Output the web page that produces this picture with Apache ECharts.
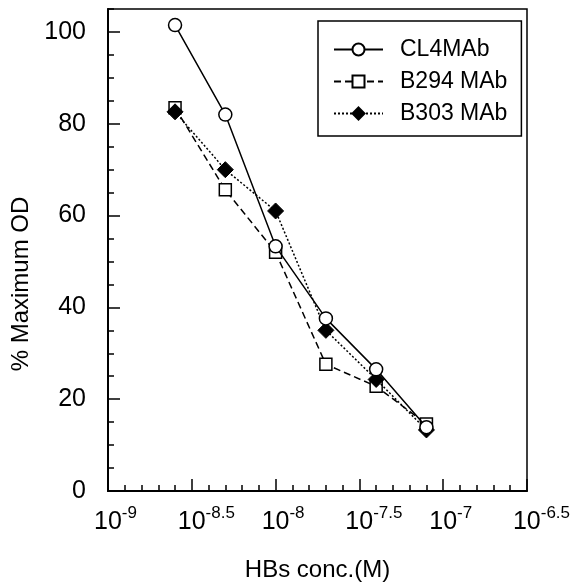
<!DOCTYPE html>
<html>
<head>
    <meta charset="UTF-8"/>
    <script src="https://cdn.jsdelivr.net/npm/echarts@6/dist/echarts.min.js"></script>
    <title>echart</title>
    <style>
        html, body { margin: 0; padding: 0; background: #fff; }
        #main { width: 573px; height: 588px; }
    </style>
</head>
<body>
<div id="main"></div>
<script>
    // log10 of HBs concentration (M)
    var logConc = [-8.6, -8.3, -8.0, -7.7, -7.4, -7.1];
    var cl4 = [101.5, 82, 53.3, 37.6, 26.5, 13.9];
    var b294 = [83.5, 65.6, 52, 27.6, 22.8, 14.6];
    var b303 = [82.6, 70, 61, 35, 24.3, 13.3];
    var seriesNames = ['CL4MAb', 'B294 MAb', 'B303 MAb'];

    var font = 'Liberation Sans, Arial, Helvetica, sans-serif';

    function pairs(xs, ys) {
        var out = [];
        for (var i = 0; i < xs.length; i++) out.push([xs[i], ys[i]]);
        return out;
    }

    var chart = echarts.init(document.getElementById('main'));
    var option = {
        animation: false,
        backgroundColor: '#fff',
        textStyle: { fontFamily: font, color: '#000' },
        grid: {
            left: 108, top: 9, right: 46, bottom: 97,
            outerBoundsMode: 'none',
            show: true, borderColor: '#000', borderWidth: 1.5
        },
        legend: {
            orient: 'vertical',
            left: 318, top: 21,
            padding: [17, 14, 11, 15],
            itemGap: 9,
            itemWidth: 49, itemHeight: 15,
            borderColor: '#000', borderWidth: 1.5,
            textStyle: { fontSize: 23, fontFamily: font, color: '#000', padding: [0, 0, 0, 12], lineHeight: 23 },
            data: seriesNames
        },
        xAxis: {
            type: 'value',
            min: -9, max: -6.5, interval: 0.5,
            name: 'HBs conc.(M)',
            nameLocation: 'middle',
            nameGap: 67,
            nameTextStyle: { fontSize: 24, fontFamily: font, color: '#000' },
            axisLine: { lineStyle: { color: '#000', width: 2 } },
            axisTick: { inside: true, length: 12, lineStyle: { color: '#000', width: 1.5 } },
            minorTick: { show: true, splitNumber: 5, length: 6, lineStyle: { color: '#000', width: 1.5 } },
            splitLine: { show: false },
            axisLabel: {
                margin: 14,
                formatter: function (v) {
                    var s = String(Math.round(v * 10) / 10);
                    var pad = s.length > 2 ? 'padL' : 'padS';
                    return '{' + pad + '|}{b|10}{s|' + s + '}';
                },
                rich: {
                    padS: { width: 15 },
                    padL: { width: 29 },
                    b: { fontSize: 25, fontFamily: font, color: '#000', lineHeight: 30, verticalAlign: 'bottom' },
                    s: { fontSize: 17, fontFamily: font, color: '#000', lineHeight: 30, verticalAlign: 'top' }
                }
            }
        },
        yAxis: [{
            type: 'value',
            min: 0, max: 105, interval: 20,
            name: '% Maximum OD',
            nameLocation: 'middle',
            nameGap: 72,
            nameTextStyle: { fontSize: 24, fontFamily: font, color: '#000', padding: [0, 68, 0, 0] },
            axisLine: { show: true, lineStyle: { color: '#000', width: 2 } },
            axisTick: { inside: true, length: 12, lineStyle: { color: '#000', width: 1.5 } },
            splitLine: { show: false },
            axisLabel: { fontSize: 25, fontFamily: font, color: '#000', margin: 22, showMaxLabel: false }
        }, {
            type: 'value',
            position: 'left',
            min: 0, max: 105, interval: 5,
            axisLine: { show: false },
            axisTick: { inside: true, length: 6, lineStyle: { color: '#000', width: 1.5 } },
            axisLabel: { show: false },
            splitLine: { show: false }
        }],
        series: [{
            name: seriesNames[0],
            type: 'line',
            data: pairs(logConc, cl4),
            symbol: 'circle', symbolSize: 13,
            itemStyle: { color: '#fff', borderColor: '#000', borderWidth: 1.5 },
            lineStyle: { color: '#000', width: 1.5, type: 'solid' },
            z: 4
        }, {
            name: seriesNames[1],
            type: 'line',
            data: pairs(logConc, b294),
            symbol: 'rect', symbolSize: 12,
            itemStyle: { color: '#fff', borderColor: '#000', borderWidth: 1.5 },
            lineStyle: { color: '#000', width: 1.5, type: [7, 4] },
            z: 2
        }, {
            name: seriesNames[2],
            type: 'line',
            data: pairs(logConc, b303),
            symbol: 'diamond', symbolSize: 16,
            itemStyle: { color: '#000', borderColor: '#000', borderWidth: 1 },
            lineStyle: { color: '#000', width: 1.5, type: [2, 2] },
            z: 3
        }]
    };
    chart.setOption(option);
</script>
</body>
</html>
